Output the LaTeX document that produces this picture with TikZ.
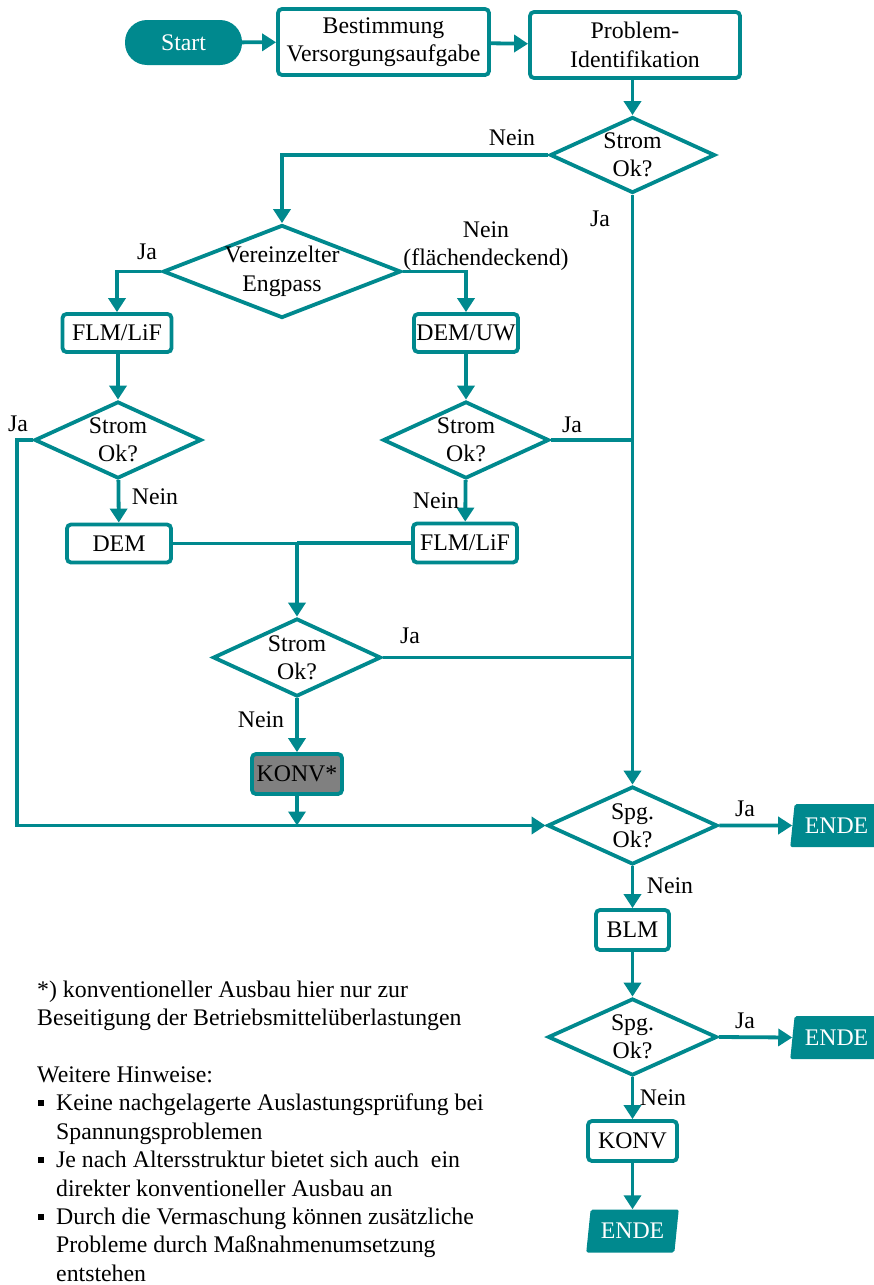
\documentclass[tikz,border=0pt]{standalone}
\usepackage{fontspec}
\setmainfont{Liberation Serif}
\usetikzlibrary{shapes.geometric,arrows.meta}
\definecolor{tl}{RGB}{0,137,142}
\definecolor{gr}{RGB}{128,128,128}
\begin{document}
\begin{tikzpicture}[x=1pt,y=-1pt,
  every node/.style={font=\fontsize{23.8}{28.4}\selectfont},
  box/.style={draw=tl,line width=3.8pt,rounded corners=4pt,fill=white,inner sep=0pt,align=center},
  dia/.style={draw=tl,line width=3.8pt,diamond,inner sep=0pt,fill=white},
  con/.style={draw=tl,line width=3.8pt},
  arr/.style={con,-{Triangle[length=14pt,width=17pt]}},
  lab/.style={inner sep=0pt},
  term/.style={trapezium,trapezium left angle=78,trapezium right angle=102,trapezium stretches=true,
    fill=tl,text=white,inner sep=0pt,minimum width=93pt,minimum height=43pt,rounded corners=2pt},
  txt/.style={inner sep=0pt,anchor=base west}
]
\clip (0,0) rectangle (874,1285);
\fill[white] (0,0) rectangle (874,1285);
% top row
\node[fill=tl,text=white,rounded corners=22pt,minimum width=117pt,minimum height=45pt,inner sep=0pt] (start) at (183.5,42.5) {Start};
\node[box,minimum width=211pt,minimum height=66pt] (best) at (383.5,42) {Bestimmung\\Versorgungsaufgabe};
\node[box,minimum width=210pt,minimum height=66pt] (prob) at (635,45) {Problem-\\Identifikation};
% diamonds
\node[dia,minimum width=165pt,minimum height=76pt,label={[lab,align=center]center:{Strom\\Ok?}}] (d1) at (632.5,155) {};
\node[dia,minimum width=238pt,minimum height=93pt,label={[lab,align=center]center:{Vereinzelter\\Engpass}}] (d2) at (282,271.5) {};
\node[box,minimum width=109pt,minimum height=38pt] (flm1) at (117,333) {FLM/LiF};
\node[box,minimum width=104pt,minimum height=38pt] (demuw) at (466,333) {DEM/UW};
\node[dia,minimum width=167pt,minimum height=77pt,label={[lab,align=center]center:{Strom\\Ok?}}] (d3) at (118,440) {};
\node[dia,minimum width=166pt,minimum height=77pt,label={[lab,align=center]center:{Strom\\Ok?}}] (d4) at (466,440) {};
\node[box,minimum width=104pt,minimum height=38pt] (dem) at (119,543.5) {DEM};
\node[box,minimum width=104pt,minimum height=39pt] (flm2) at (465,543) {FLM/LiF};
\node[dia,minimum width=168pt,minimum height=78pt,label={[lab,align=center]center:{Strom\\Ok?}}] (d5) at (297,657.5) {};
\node[box,fill=gr,minimum width=90pt,minimum height=40pt] (konv1) at (297,774) {KONV*};
\node[dia,minimum width=170pt,minimum height=78pt,label={[lab,align=center]center:{Spg.\\Ok?}}] (s1) at (632.5,825.5) {};
\node[term] (e1) at (836.5,825.5) {ENDE};
\node[box,minimum width=73pt,minimum height=40pt] (blm) at (632.5,930) {BLM};
\node[dia,minimum width=169pt,minimum height=77pt,label={[lab,align=center]center:{Spg.\\Ok?}}] (s2) at (632.5,1037) {};
\node[term] (e2) at (836.5,1037.5) {ENDE};
\node[box,minimum width=89pt,minimum height=40pt] (konv2) at (632.5,1141) {KONV};
\node[term] (e3) at (632.5,1231) {ENDE};
% connectors
\draw[arr] (start) -- (best);
\draw[arr] (best) -- (prob);
\draw[arr] (d1 |- prob.south) -- (d1.north);
\draw[arr] (d1.west) -| (d2.north);
\draw[arr] (d1.south) -- (s1.north);
\draw[arr] (d2.west) -| (flm1.north);
\draw[arr] (d2.east) -| (demuw.north);
\draw[arr] (flm1.south -| d3.north) -- (d3.north);
\draw[arr] (demuw) -- (d4);
\coordinate (jl) at (17,440);
\draw[arr] (d3.west) -- (jl) |- (s1.west);
\draw[arr] (d3) -- (dem);
\draw[arr] (d4) -- (flm2);
\draw[con] (d4.east) -- (d4.east -| d1.south);
\draw[con] (dem.east) -- (dem.east -| d5.north);
\draw[con] (flm2.west) -- (flm2.west -| d5.north);
\draw[arr] (dem.east -| d5.north) -- (d5.north);
\draw[con] (d5.east) -- (d5.east -| d1.south);
\draw[arr] (d5) -- (konv1);
\draw[arr] (konv1.south) -- (konv1.south |- s1.west);
\draw[arr] (s1.east) -- (e1.west);
\draw[arr] (s1) -- (blm);
\draw[arr] (blm) -- (s2);
\draw[arr] (s2.east) -- (e2.west);
\draw[arr] (s2) -- (konv2);
\draw[arr] (konv2) -- (e3);
% labels
\node[lab] (l1) at (512,138) {Nein};
\node[lab] (l2) at (600,219) {Ja};
\node[lab] (l3) at (147,252) {Ja};
\node[lab,align=center] (l4) at (486,246) {Nein\\(flächendeckend)};
\node[lab] (l5) at (18,424) {Ja};
\node[lab] (l6) at (572,425) {Ja};
\node[lab] (l7) at (155,497) {Nein};
\node[lab] (l8) at (436,501) {Nein};
\node[lab] (l9) at (410,636) {Ja};
\node[lab] (l10) at (261,720) {Nein};
\node[lab] (l11) at (745,809) {Ja};
\node[lab] (l12) at (670,886) {Nein};
\node[lab] (l13) at (745,1021) {Ja};
\node[lab] (l14) at (663,1098) {Nein};
% notes
\node[txt] (t1) at (37,997) {*) konventioneller Ausbau hier nur zur};
\node[txt] (t2) at (37,1025) {Beseitigung der Betriebsmittelüberlastungen};
\node[txt] (t3) at (37,1082) {Weitere Hinweise:};
\node[txt] (t4) at (38,1110) {\makebox[18pt][l]{\rule[4pt]{6pt}{6pt}}Keine nachgelagerte Auslastungsprüfung bei};
\node[txt] (t5) at (56,1139) {Spannungsproblemen};
\node[txt] (t6) at (38,1167) {\makebox[18pt][l]{\rule[4pt]{6pt}{6pt}}Je nach Altersstruktur bietet sich auch\ \ ein};
\node[txt] (t7) at (56,1196) {direkter konventioneller Ausbau an};
\node[txt] (t8) at (38,1224) {\makebox[18pt][l]{\rule[4pt]{6pt}{6pt}}Durch die Vermaschung können zusätzliche};
\node[txt] (t9) at (56,1252) {Probleme durch Maßnahmenumsetzung};
\node[txt] (t10) at (56,1281) {entstehen};
\end{tikzpicture}
\end{document}
